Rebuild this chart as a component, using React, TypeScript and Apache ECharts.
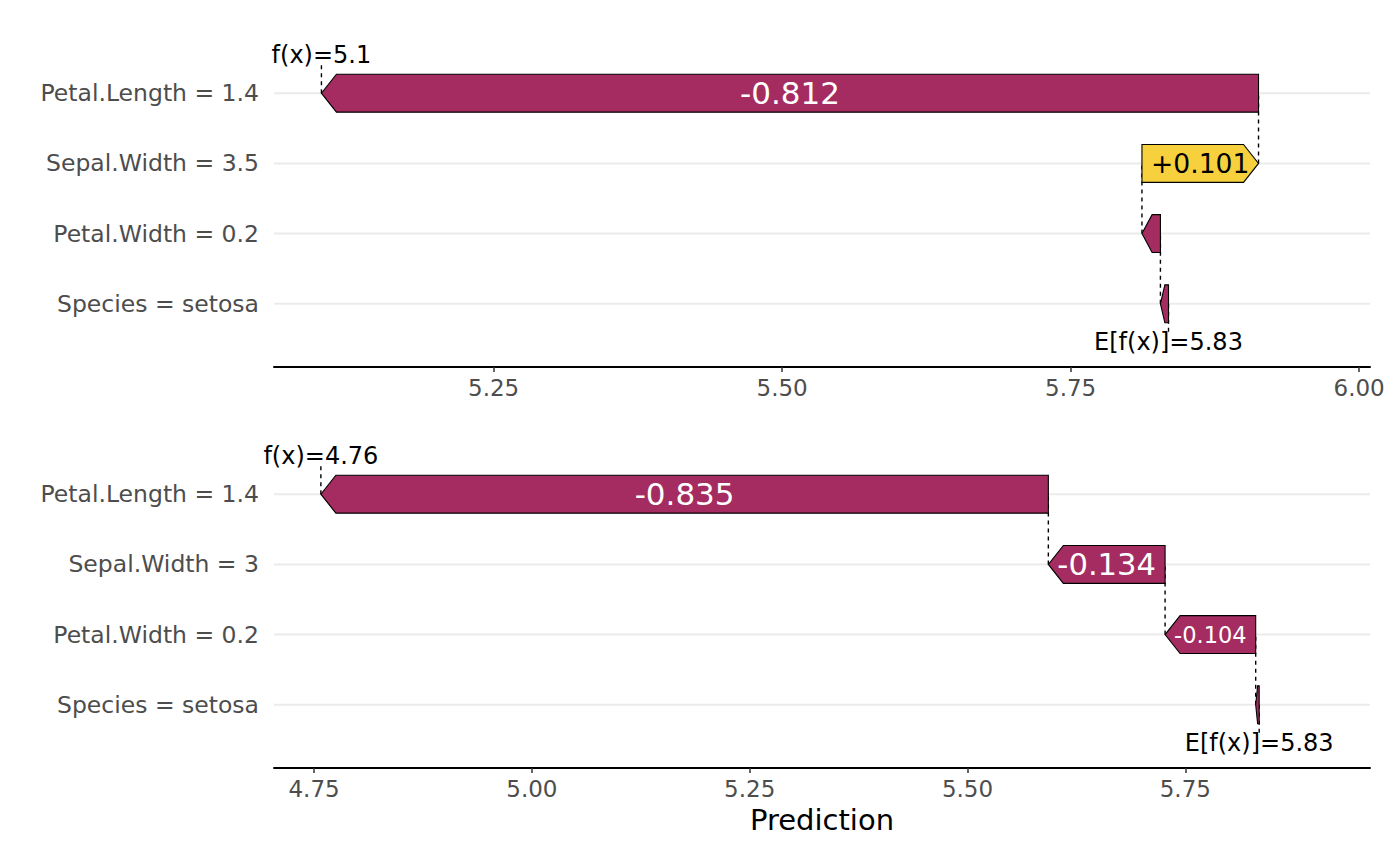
import React, { useEffect, useRef } from "react";
import * as echarts from "echarts";

const FONT = "'DejaVu Sans', sans-serif";
const POS = "#F7D13D";
const NEG = "#A52C60";

const baseline = 5.8348;
const featuresTop = ["Species = setosa", "Petal.Width = 0.2", "Sepal.Width = 3.5", "Petal.Length = 1.4"];
const shapTop = [-0.007, -0.016, 0.101, -0.812];
const featuresBottom = ["Species = setosa", "Petal.Width = 0.2", "Sepal.Width = 3", "Petal.Length = 1.4"];
const shapBottom = [-0.004, -0.104, -0.134, -0.835];
const ticksTop = [5.25, 5.5, 5.75, 6.0];
const ticksBottom = [4.75, 5.0, 5.25, 5.5, 5.75];
const rangeTop = [5.0597, 6.0094];
const rangeBottom = [4.704, 5.962];

const fmt3 = (v: number) => String(Number(v.toPrecision(3)));
const shapLabel = (v: number) => (v > 0 ? "+" : "") + fmt3(v);

let measureCtx: CanvasRenderingContext2D | null = null;
function measureEm(text: string): number {
  if (!measureCtx) {
    const c = document.createElement("canvas");
    measureCtx = c.getContext("2d");
  }
  if (!measureCtx) return text.length * 0.6;
  measureCtx.font = "100px 'DejaVu Sans'";
  return measureCtx.measureText(text).width / 100;
}

function panelSeries(idx: number, features: string[], shap: number[], range: number[]) {
  const rows: number[][] = [];
  let cur = baseline;
  shap.forEach((s, i) => {
    rows.push([cur, cur + s, i + 1, s]);
    cur += s;
  });
  const fx = cur;
  const n = features.length;
  const conn: number[][] = [];
  for (let i = 0; i < n - 1; i++) conn.push([rows[i][1], i + 1, i + 2]);
  conn.push([baseline, 1, 0.58]);
  conn.push([fx, n, n + 0.45]);
  const annot: [number, number, string][] = [
    [baseline, 0.45, "E[f(x)]=" + fmt3(baseline)],
    [fx, n + 0.55, "f(x)=" + fmt3(fx)],
  ];

  const common = { xAxisIndex: idx, yAxisIndex: idx, type: "custom" as const, silent: true };

  return [
    {
      ...common,
      z: 1,
      data: features.map((_, i) => [range[0], i + 1]),
      renderItem: (params: any, api: any) => {
        const cs = params.coordSys;
        const y = api.coord([range[0], api.value(1)])[1];
        return {
          type: "line",
          shape: { x1: cs.x, y1: y, x2: cs.x + cs.width, y2: y },
          style: { stroke: "#EBEBEB", lineWidth: 2 },
        };
      },
    },
    {
      ...common,
      z: 2,
      data: conn.map((c) => [c[0], c[1]]),
      renderItem: (params: any, api: any) => {
        const c = conn[params.dataIndex];
        const a = api.coord([c[0], c[1]]);
        const b = api.coord([c[0], c[2]]);
        return {
          type: "line",
          shape: { x1: a[0], y1: a[1], x2: b[0], y2: b[1] },
          style: { stroke: "#000", lineWidth: 1.4, lineDash: [4, 4] },
        };
      },
    },
    {
      ...common,
      z: 3,
      data: rows.map((r) => [r[0], r[2], r[1]]),
      renderItem: (params: any, api: any) => {
        const r = rows[params.dataIndex];
        const p0 = api.coord([r[0], r[2]]);
        const p1 = api.coord([r[1], r[2]]);
        const hh = api.size([0, 1])[1] * 0.27;
        const sx = p0[0];
        const ex = p1[0];
        const cy = p0[1];
        const len = Math.abs(ex - sx);
        const dir = ex >= sx ? 1 : -1;
        const head = Math.min(15, len * 0.55);
        const pts = [
          [sx, cy - hh],
          [ex - dir * head, cy - hh],
          [ex, cy],
          [ex - dir * head, cy + hh],
          [sx, cy + hh],
        ];
        const color = r[3] > 0 ? POS : NEG;
        const children: any[] = [
          { type: "polygon", shape: { points: pts }, style: { fill: color, stroke: "#000", lineWidth: 1.1 } },
        ];
        const label = shapLabel(r[3]);
        const fs = Math.min(31, (len - 18) / measureEm(label));
        if (fs >= 8) {
          children.push({
            type: "text",
            style: {
              text: label,
              x: (sx + ex) / 2,
              y: cy,
              align: "center",
              verticalAlign: "middle",
              fontSize: fs,
              fontFamily: FONT,
              fill: r[3] > 0 ? "#000" : "#fff",
            },
          });
        }
        return { type: "group", children };
      },
    },
    {
      ...common,
      z: 4,
      data: annot.map((a) => [a[0], a[1]]),
      renderItem: (params: any, api: any) => {
        const a = annot[params.dataIndex];
        const p = api.coord([a[0], a[1]]);
        return {
          type: "text",
          style: {
            text: a[2],
            x: p[0],
            y: p[1],
            align: "center",
            verticalAlign: "middle",
            fontSize: 24,
            fontFamily: FONT,
            fill: "#000",
          },
        };
      },
    },
  ];
}

function xAxisDef(idx: number, range: number[], ticks: number[], name?: string) {
  return {
    type: "value",
    gridIndex: idx,
    min: range[0],
    max: range[1],
    name: name || "",
    nameLocation: "middle",
    nameGap: 37,
    nameTextStyle: { fontSize: 29, color: "#000", fontFamily: FONT },
    axisLine: { show: true, onZero: false, lineStyle: { color: "#000", width: 2 } },
    axisTick: { show: true, customValues: ticks, length: 5, lineStyle: { color: "#333", width: 1.5 } },
    axisLabel: {
      show: true,
      customValues: ticks,
      formatter: (v: number) => v.toFixed(2),
      fontSize: 23,
      color: "#4D4D4D",
      fontFamily: FONT,
      margin: 9,
    },
    splitLine: { show: false },
  };
}

function yAxisDef(idx: number, features: string[]) {
  return {
    type: "value",
    gridIndex: idx,
    min: 0.1,
    max: 4.9,
    axisLine: { show: false },
    axisTick: { show: false },
    splitLine: { show: false },
    axisLabel: {
      show: true,
      customValues: features.map((_, i) => i + 1),
      formatter: (v: number) => features[Math.round(v) - 1] || "",
      fontSize: 23.5,
      color: "#4D4D4D",
      fontFamily: FONT,
      margin: 15,
    },
  };
}

export default function App() {
  const ref = useRef<HTMLDivElement>(null);
  useEffect(() => {
    if (!ref.current) return;
    const chart = echarts.init(ref.current, undefined, { renderer: "svg" });
    const option: any = {
      animation: false,
      backgroundColor: "#fff",
      textStyle: { fontFamily: FONT },
      grid: [
        { left: 274, right: 30, top: 30, height: 337, outerBoundsMode: "none", containLabel: false },
        { left: 274, right: 30, top: 431, height: 337, outerBoundsMode: "none", containLabel: false },
      ],
      xAxis: [xAxisDef(0, rangeTop, ticksTop), xAxisDef(1, rangeBottom, ticksBottom, "Prediction")],
      yAxis: [yAxisDef(0, featuresTop), yAxisDef(1, featuresBottom)],
      series: [
        ...panelSeries(0, featuresTop, shapTop, rangeTop),
        ...panelSeries(1, featuresBottom, shapBottom, rangeBottom),
      ],
    };
    chart.setOption(option);
    return () => chart.dispose();
  }, []);
  return (
    <div
      ref={ref}
      style={{ position: "fixed", left: 0, top: 0, width: 1400, height: 866, background: "#fff" }}
    />
  );
}
